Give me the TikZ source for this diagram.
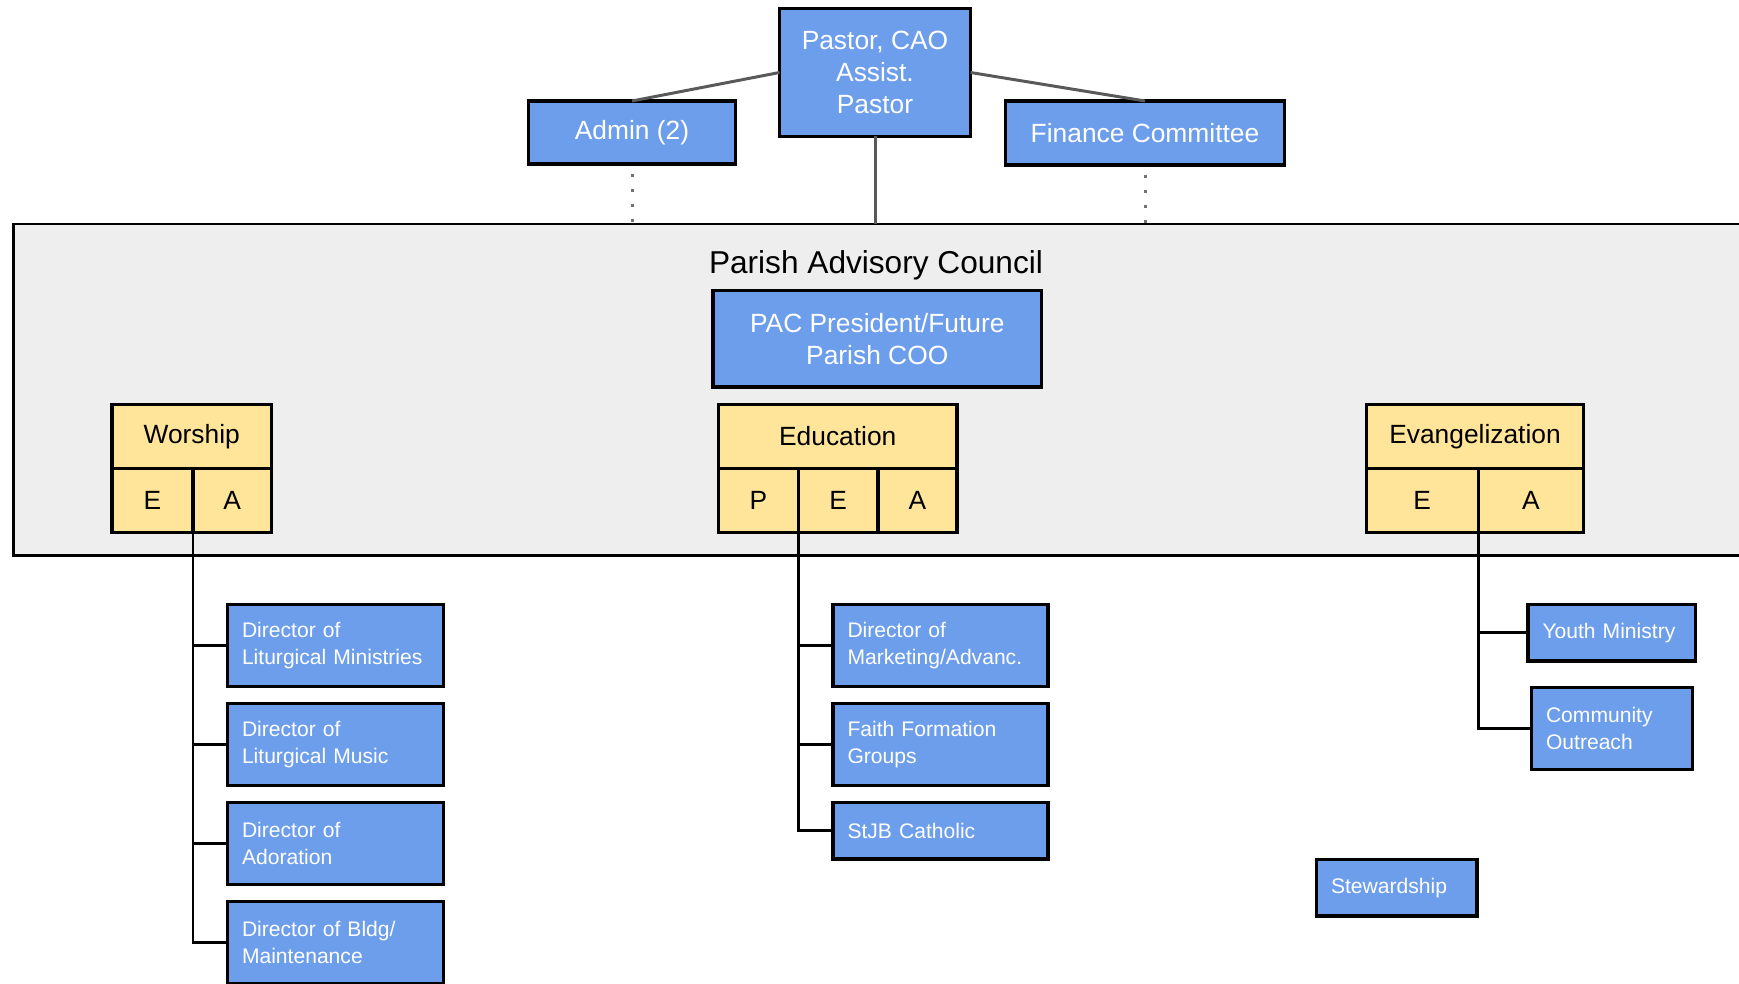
\documentclass[tikz,border=0pt]{standalone}
\usepackage{fontspec}
\setmainfont{Liberation Sans}
\usetikzlibrary{positioning}
\definecolor{boxBlue}{HTML}{6D9EEB}
\definecolor{deptYellow}{HTML}{FFE599}
\definecolor{councilGray}{HTML}{EEEEEE}
\definecolor{linkGray}{HTML}{595959}

\begin{document}
\begin{tikzpicture}[
  font=\fontsize{15}{18.3}\selectfont,
  node distance=0.34cm,
  lead/.style={draw=black, line width=1.8pt, fill=boxBlue, text=white, align=center, inner sep=2pt, outer sep=0pt},
  council/.style={draw=black, line width=1.6pt, fill=councilGray, inner sep=0pt, outer sep=0pt},
  title/.style={font=\fontsize{18}{22}\selectfont, text=black},
  dept/.style={draw=black, line width=1.8pt, fill=deptYellow, minimum height=1.27cm, inner sep=0pt, outer sep=0pt},
  cell/.style={dept, minimum height=1.29cm, anchor=north west},
  box/.style={draw=black, line width=1.8pt, fill=boxBlue, text=white, font=\fontsize{12}{15}\selectfont, align=left, inner xsep=0.29cm, inner ysep=0pt, outer sep=0pt, minimum height=1.64cm},
  boxShort/.style={box, minimum height=1.13cm},
  link/.style={line width=1.7pt, black},
  topLink/.style={line width=1.7pt, linkGray},
  dotLink/.style={line width=1.7pt, linkGray!85, dash pattern=on 1.7pt off 6.8pt, shorten <=0.2cm},
]
\useasboundingbox (0,0) rectangle (34.78,-19.67);
\clip (0,0) rectangle (34.78,-19.67);

% --- Leadership ---
\node[lead, minimum width=3.82cm, minimum height=2.55cm] (pastor) at (17.50,-1.45) {Pastor, CAO\\Assist.\\Pastor};
\node[lead, minimum width=4.13cm, minimum height=1.26cm] (admin) at (12.64,-2.65) {Admin (2)};
\node[lead, minimum width=5.57cm, minimum height=1.28cm] (finance) at (22.90,-2.66) {Finance Committee};

% --- Council band ---
\node[council, anchor=north west, minimum width=36cm, minimum height=6.63cm] (council) at (0.27,-4.48) {};
\node[title] (councilLbl) at (17.52,-5.30) {Parish Advisory Council};
\node[lead, minimum width=6.57cm, minimum height=1.93cm] (pac) at (17.545,-6.775) {PAC President/Future\\Parish COO};

\draw[topLink] (pastor.west) -- (admin.north);
\draw[topLink] (pastor.east) -- (finance.north);
\draw[topLink] (pastor.south) -- (pastor.south |- council.north);
\draw[dotLink] (admin.south) -- (admin.south |- council.north);
\draw[dotLink] (finance.south) -- (finance.south |- council.north);

% --- Departments ---
\node[dept, minimum width=3.19cm] (wor) at (3.835,-8.73) {Worship};
\node[cell, minimum width=1.62cm] (worE) at (wor.south west) {E};
\node[cell, minimum width=1.57cm] (worA) at (worE.north east) {A};

\node[dept, minimum width=4.77cm] (edu) at (16.755,-8.73) {Education};
\node[cell, minimum width=1.60cm] (eduP) at (edu.south west) {P};
\node[cell, minimum width=1.59cm] (eduE) at (eduP.north east) {E};
\node[cell, minimum width=1.58cm] (eduA) at (eduE.north east) {A};

\node[dept, minimum width=4.35cm] (eva) at (29.50,-8.73) {Evangelization};
\node[cell, minimum width=2.24cm] (evaE) at (eva.south west) {E};
\node[cell, minimum width=2.11cm] (evaA) at (evaE.north east) {A};

% --- Worship stack ---
\node[box, text width=3.74cm, anchor=north west] (litMin) at (4.55,-12.09) {Director of\\Liturgical Ministries};
\node[box, text width=3.74cm, below=of litMin] (litMusic) {Director of\\Liturgical Music};
\node[box, text width=3.74cm, below=of litMusic] (adoration) {Director of\\Adoration};
\node[box, text width=3.74cm, below=of adoration] (bldg) {Director of Bldg/\\Maintenance};

% --- Education stack ---
\node[box, text width=3.72cm, anchor=north west] (marketing) at (16.66,-12.09) {Director of\\Marketing/Advanc.};
\node[box, text width=3.72cm, below=of marketing] (faith) {Faith Formation\\Groups};
\node[boxShort, text width=3.72cm, below=of faith] (stjb) {StJB Catholic};

% --- Evangelization stack ---
\node[boxShort, text width=2.77cm, anchor=north west] (youth) at (30.56,-12.09) {Youth Ministry};
\node[box, text width=2.64cm, anchor=north west] (outreach) at (30.63,-13.75) {Community\\Outreach};
\node[boxShort, text width=2.63cm, anchor=north west] (steward) at (26.33,-17.19) {Stewardship};

% connectors
\draw[link] (worE.south east) |- (litMin.west);
\draw[link] (worE.south east) |- (litMusic.west);
\draw[link] (worE.south east) |- (adoration.west);
\draw[link] (worE.south east) |- (bldg.west);

\draw[link] (eduP.south east) |- (marketing.west);
\draw[link] (eduP.south east) |- (faith.west);
\draw[link] (eduP.south east) |- (stjb.west);

\draw[link] (evaE.south east) |- (youth.west);
\draw[link] (evaE.south east) |- (outreach.west);

\end{tikzpicture}
\end{document}
